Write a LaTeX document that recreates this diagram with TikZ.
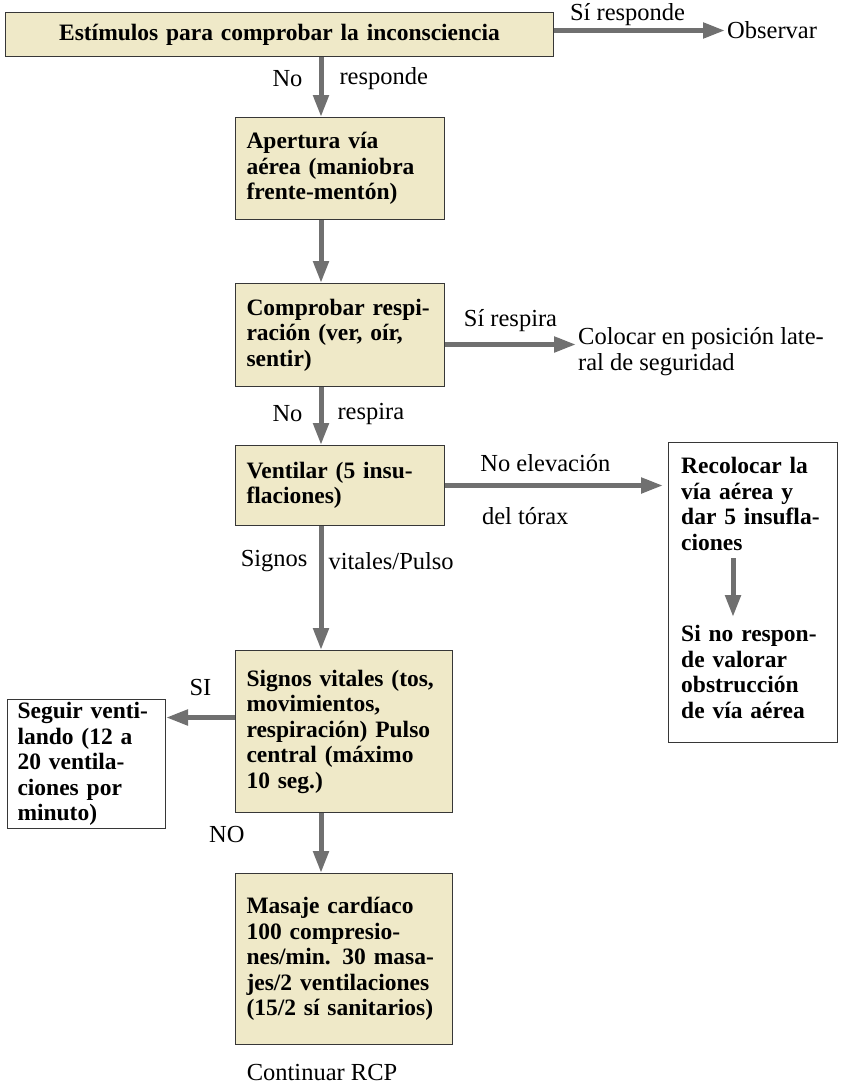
\documentclass[tikz,border=0pt]{standalone}
\usepackage{fontspec}
\setmainfont{Liberation Serif}
\usetikzlibrary{arrows.meta}

\definecolor{crema}{RGB}{239,233,200}
\definecolor{borde}{RGB}{55,55,55}
\definecolor{gris}{RGB}{112,112,112}

\newcommand\cajafont{\bfseries\fontsize{23.5}{25.5}\selectfont}
\newcommand\etiqfont{\fontsize{24.5}{26}\selectfont}

\tikzset{
	caja/.style={draw=borde, fill=crema, line width=1pt, anchor=north west, align=left,
		text width=187pt, inner xsep=11pt, inner ysep=0pt, font=\cajafont},
	marco/.style={caja, fill=white},
	flecha/.style={draw=gris, line width=5pt, -{Triangle[length=22pt,width=15pt]}},
	etiq/.style={font=\etiqfont, inner sep=2pt},
}

\begin{document}
\begin{tikzpicture}[x=1pt, y=-1pt]
		\useasboundingbox ( 0, 0 ) rectangle ( 845, 1087 );
		\coordinate (eje) at ( 321, 0 );
		\coordinate (ejeder) at ( 733, 0 );

		% cajas de la columna central
		\node [caja, text width=526pt, align=center, minimum height=44pt] (estimulos) at ( 5, 12 ) {Estímulos para comprobar la inconsciencia};
		\node [caja, minimum height=102pt] (apertura) at ( 235, 117 ) {Apertura vía\\aérea (maniobra\\frente-mentón)};
		\node [caja, minimum height=103pt] (comprobar) at ( 235, 283 ) {Comprobar respi-\\ración (ver, oír,\\sentir)};
		\node [caja, minimum height=80pt] (ventilar) at ( 235, 445 ) {Ventilar (5 insu-\\flaciones)};
		\node [caja, text width=195pt, minimum height=162pt] (signos) at ( 235, 650 ) {Signos vitales (tos,\\movimientos,\\respiración) Pulso\\central (máximo\\10 seg.)};
		\node [caja, text width=195pt, minimum height=171pt] (masaje) at ( 235, 873 ) {Masaje cardíaco\\100 compresio-\\nes/min. 30 masa-\\jes/2 ventilaciones\\(15/2 sí sanitarios)};
		\node [etiq] (continuar) at ( 322, 1072 ) {Continuar RCP};

		% salidas laterales
		\node [etiq, anchor=west] (observar) at ( 725, 30 ) {Observar};
		\node [etiq, anchor=west, align=left] (colocar) at ( 576, 352 ) {Colocar en posición late-\\ral de seguridad};
		\node [marco, text width=138pt, inner xsep=10pt, minimum height=129pt] (seguir) at ( 7, 699 ) {Seguir venti-\\lando (12 a\\20 ventila-\\ciones por\\minuto)};

		% recuadro de la derecha
		\node [marco, text width=0pt, inner sep=0pt, minimum width=169pt, minimum height=300pt] (obstruccion) at ( 668, 442 ) {};
		\node [anchor=north west, align=left, font=\cajafont, text width=150pt, inner xsep=0pt, inner ysep=8pt] (recolocar) at ( 681, 449 ) {Recolocar la\\vía aérea y\\dar 5 insufla-\\ciones};
		\node [anchor=north west, align=left, font=\cajafont, text width=150pt, inner xsep=0pt, inner ysep=8pt] (valorar) at ( 681, 617 ) {Si no respon-\\de valorar\\obstrucción\\de vía aérea};

		% flechas verticales
		\draw [flecha] (estimulos.south -| eje) -- (apertura.north -| eje)
			node [etiq, pos=.36, left=14pt] {No}
			node [etiq, pos=.36, right=14pt] {responde};
		\draw [flecha] (apertura.south -| eje) -- (comprobar.north -| eje);
		\draw [flecha] (comprobar.south -| eje) -- (ventilar.north -| eje)
			node [etiq, pos=.46, left=14pt] {No}
			node [etiq, pos=.46, right=12pt] {respira};
		\draw [flecha] (ventilar.south -| eje) -- (signos.north -| eje)
			node [etiq, pos=.28, left=9pt] {Signos}
			node [etiq, pos=.28, right=3pt] {vitales/Pulso};
		\draw [flecha] (signos.south -| eje) -- (masaje.north -| eje)
			node [etiq, pos=.35, left=72pt] {NO};
		\draw [flecha] (recolocar.south -| ejeder) -- (valorar.north -| ejeder);

		% flechas horizontales
		\draw [flecha] ([yshift=4pt]estimulos.east) -- ([yshift=4pt]estimulos.east -| observar.west)
			node [etiq, pos=.43, above=0pt] {Sí responde};
		\draw [flecha] ([yshift=-9.5pt]comprobar.east) -- ([yshift=-9.5pt]comprobar.east -| colocar.west)
			node [etiq, pos=.5, above=8pt] {Sí respira};
		\draw [flecha, shorten >=5pt] (ventilar.east) -- (ventilar.east -| obstruccion.west)
			node [etiq, pos=.45, above=9pt] {No elevación}
			node [etiq, pos=.36, below=17pt] {del tórax};
		\draw [flecha] ([yshift=14pt]signos.west) -- ([yshift=14pt]signos.west -| seguir.east)
			node [etiq, pos=.5, above=17pt] {SI};
	\end{tikzpicture}
\end{document}
